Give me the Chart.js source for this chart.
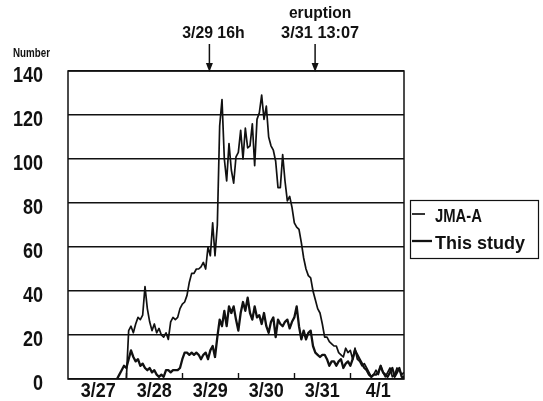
<!DOCTYPE html>
<html>
<head>
<meta charset="utf-8">
<script src="https://cdn.jsdelivr.net/npm/chart.js@4.4.1/dist/chart.umd.min.js"></script>
<style>
  html, body { margin: 0; padding: 0; background: #fff; }
</style>
</head>
<body>
<canvas id="myChart" width="543" height="401"></canvas>
<script>
const FONT = "'Liberation Sans', Arial, sans-serif";

// hourly counts, first value is at startHour (hours counted on the axis from 3/27)
const startHour = 20;
const jmaA = [
  0, 0, 0, 0, 0,
  22, 24, 21, 25, 28,
  27, 29, 42, 32, 26,
  22, 25, 21, 23, 20,
  19, 21, 18, 26, 28,
  27, 28, 32, 34, 35,
  38, 44, 48, 48, 50,
  50, 51, 53, 50, 60,
  56, 71, 56, 70, 115,
  127, 100, 90, 107, 95,
  89, 101, 103, 113, 100,
  114, 105, 106, 116, 97,
  118, 121, 129, 118, 124,
  110, 106, 104, 99, 87,
  87, 102, 90, 81, 83,
  78, 71, 69, 68, 62,
  55, 50, 47, 46, 40,
  36, 32, 30, 25, 19,
  19, 17, 16, 15, 15,
  12, 11, 10, 14, 12,
  13, 9, 14, 9, 8,
  6, 7, 5, 3, 1,
  2, 4, 2, 6, 3,
  1, 3, 5, 1, 2,
  5, 4, 2, 3
];
const thisStudy = [
  0, 2, 4, 6, 5,
  9, 13, 10, 8, 9,
  6, 7, 5, 4, 5,
  3, 4, 2, 1, 2,
  1, 4, 4, 3, 4,
  4, 4, 5, 9, 12,
  12, 11, 12, 11, 12,
  11, 9, 11, 12, 9,
  13, 15, 10, 19, 27,
  24, 31, 24, 33, 30,
  33, 27, 22, 30, 35,
  31, 37, 30, 27, 33,
  28, 29, 25, 30, 24,
  21, 26, 28, 19, 27,
  25, 24, 26, 27, 23,
  26, 28, 33, 24, 18,
  22, 18, 21, 22, 15,
  12, 11, 10, 11, 11,
  9, 6, 8, 8, 6,
  8, 9, 5, 7, 8,
  6, 9, 13, 11, 9,
  7, 5, 4, 2, 1,
  2, 2, 3, 6, 3,
  2, 1, 3, 5, 1,
  3, 5, 1, 1
];

const dayLabels = ['3/27', '3/28', '3/29', '3/30', '3/31', '4/1'];
const dayLabelHours = [12, 36, 60, 84, 108, 132];
const dayTickHours = [24, 48, 72, 96, 120];
const yTicks = [0, 20, 40, 60, 80, 100, 120, 140];

// arrows above the plot
const eventHours = [59.6, 104.9];
const eventLabels = [['3/29 16h'], ['eruption', '3/31 13:07']];

const toPoints = arr => arr.map((v, i) => ({ x: startHour + i, y: v }));

// narrow bold text: squeeze horizontally (to a width, or by a factor)
function narrowText(ctx, text, x, y, size, align, opts) {
  ctx.save();
  ctx.font = 'bold ' + size + 'px ' + FONT;
  ctx.textAlign = 'left';
  const w = ctx.measureText(text).width;
  const sx = opts.width ? opts.width / w : opts.sx;
  const tw = w * sx;
  let left = x;
  if (align === 'center') left = x - tw / 2;
  if (align === 'right') left = x - tw;
  ctx.translate(left, y);
  ctx.scale(sx, 1);
  ctx.fillText(text, 0, 0);
  ctx.restore();
}

const framePlugin = {
  id: 'frame',
  afterDraw(chart) {
    const ctx = chart.ctx;
    const a = chart.chartArea;
    const xs = chart.scales.x;
    const ys = chart.scales.y;
    ctx.save();
    ctx.strokeStyle = '#111';
    ctx.fillStyle = '#111';
    ctx.textBaseline = 'alphabetic';

    // plot frame
    ctx.lineWidth = 1.5;
    ctx.strokeRect(a.left, a.top, a.right - a.left, a.bottom - a.top);

    // inward day ticks
    ctx.lineWidth = 1.4;
    dayTickHours.forEach(h => {
      const x = Math.round(xs.getPixelForValue(h)) + 0.5;
      ctx.beginPath();
      ctx.moveTo(x, a.bottom);
      ctx.lineTo(x, a.bottom - 6);
      ctx.stroke();
    });

    // tick labels from the scales
    ys.ticks.forEach(t => {
      const y = ys.getPixelForValue(t.value);
      narrowText(ctx, String(t.value), a.left - 25, y + 11, 22, 'right', { sx: 0.82 });
    });
    xs.ticks.forEach((t, i) => {
      const x = xs.getPixelForValue(t.value);
      narrowText(ctx, dayLabels[i], x, 397, 20, 'center', { sx: 0.9 });
    });

    // arrows + their texts
    eventHours.forEach((h, i) => {
      const x = xs.getPixelForValue(h);
      ctx.lineWidth = 1.5;
      ctx.beginPath();
      ctx.moveTo(x, 44);
      ctx.lineTo(x, a.top - 6);
      ctx.stroke();
      ctx.beginPath();
      ctx.moveTo(x - 3.5, a.top - 8);
      ctx.lineTo(x + 3.5, a.top - 8);
      ctx.lineTo(x, a.top + 1);
      ctx.closePath();
      ctx.fill();
      const lines = eventLabels[i];
      lines.forEach((t, j) => {
        const yy = 38 - (lines.length - 1 - j) * 20;
        narrowText(ctx, t, x + (i === 0 ? 4 : 5), yy, 17, 'center', { width: t.length * 7.8 });
      });
    });

    // y axis caption
    narrowText(ctx, 'Number', 13, 57, 13, 'left', { width: 37 });

    // legend
    ctx.lineWidth = 1.2;
    ctx.strokeRect(410.5, 200.5, 128, 58);
    const ds = chart.data.datasets;
    ctx.lineWidth = ds[0].borderWidth;
    ctx.beginPath(); ctx.moveTo(412, 214); ctx.lineTo(425, 214); ctx.stroke();
    narrowText(ctx, ds[0].label, 435, 222, 19, 'left', { width: 47 });
    ctx.lineWidth = ds[1].borderWidth;
    ctx.beginPath(); ctx.moveTo(412, 241); ctx.lineTo(432, 241); ctx.stroke();
    narrowText(ctx, ds[1].label, 435, 249, 19, 'left', { width: 90 });

    ctx.restore();
  }
};

const ctx = document.getElementById('myChart').getContext('2d');
new Chart(ctx, {
  type: 'line',
  data: {
    datasets: [
      { label: 'JMA-A', data: toPoints(jmaA), borderColor: '#111', borderWidth: 1.7,
        pointRadius: 0, borderJoinStyle: 'round', tension: 0 },
      { label: 'This study', data: toPoints(thisStudy), borderColor: '#111', borderWidth: 2.3,
        pointRadius: 0, borderJoinStyle: 'round', tension: 0 }
    ]
  },
  options: {
    responsive: false,
    animation: false,
    devicePixelRatio: 1,
    layout: { padding: { top: 71, right: 139, bottom: 0, left: 0 } },
    plugins: { legend: { display: false }, tooltip: { enabled: false } },
    scales: {
      x: {
        type: 'linear', min: -1, max: 143,
        grid: { display: false, drawTicks: false },
        border: { display: false },
        afterBuildTicks: s => { s.ticks = dayLabelHours.map(v => ({ value: v })); },
        afterFit: s => { s.height = 22; },
        ticks: { display: false }
      },
      y: {
        min: 0, max: 140,
        afterBuildTicks: s => { s.ticks = yTicks.map(v => ({ value: v })); },
        afterFit: s => { s.width = 68; },
        grid: { color: '#111', lineWidth: 1.4, drawTicks: false },
        border: { display: false },
        ticks: { display: false }
      }
    }
  },
  plugins: [framePlugin]
});
</script>
</body>
</html>
